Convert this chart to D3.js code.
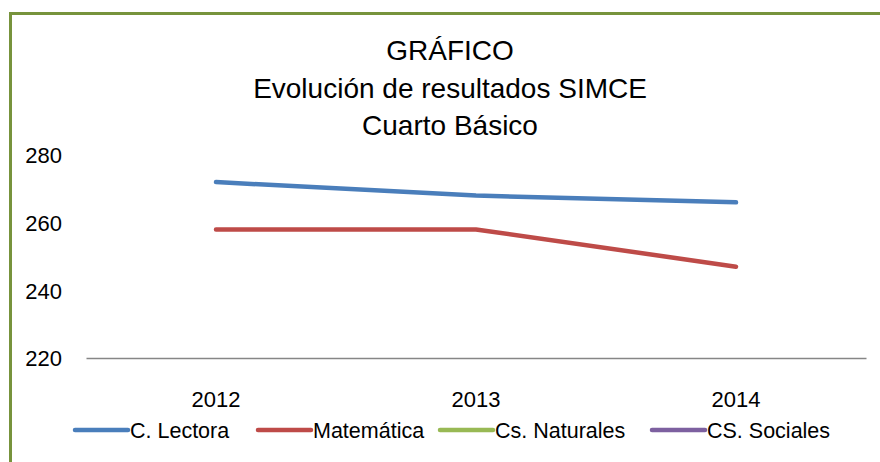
<!DOCTYPE html>
<html>
<head>
<meta charset="utf-8">
<script src="https://cdn.jsdelivr.net/npm/d3@7"></script>
<style>
  body { margin: 0; background: #fff; }
  svg text { font-family: "Liberation Sans", Arial, sans-serif; fill: #000; }
</style>
</head>
<body>
<div id="chart"></div>
<script>
// DATA
const years = ['2012', '2013', '2014'];
const lectora = [272, 268, 266];
const matematica = [258, 258, 247];
const seriesNames = ['C. Lectora', 'Matemática', 'Cs. Naturales', 'CS. Sociales'];
const seriesColors = ['#4A7EBB', '#BE4B48', '#98B954', '#7D60A0'];
const yTicks = [220, 240, 260, 280];
const titleLines = ['GRÁFICO', 'Evolución de resultados SIMCE', 'Cuarto Básico'];

const width = 880, height = 462;
const svg = d3.select('#chart').append('svg')
    .attr('width', width)
    .attr('height', height);

// FRAME
svg.append('rect')
    .attr('x', 10.5)
    .attr('y', 13.5)
    .attr('width', 900)
    .attr('height', 500)
    .attr('fill', 'none')
    .attr('stroke', '#77933C')
    .attr('stroke-width', 3);

// TITLE
svg.append('g').selectAll('text')
    .data(titleLines)
    .enter()
    .append('text')
    .attr('x', 450)
    .attr('y', (d, i) => 60 + i * 37.5)
    .attr('text-anchor', 'middle')
    .attr('font-size', 28)
    .text(d => d);

// SCALES
const xScale = d3.scaleBand()
    .domain(years)
    .range([86, 866]);

const yScale = d3.scaleLinear()
    .domain([220, 280])
    .range([358, 155]);

// Y AXIS
const yAxis = svg.append('g')
    .attr('transform', 'translate(62,0)')
    .call(d3.axisLeft(yScale).tickValues(yTicks).tickSize(0).tickPadding(0));
yAxis.select('.domain').remove();
yAxis.selectAll('text')
    .attr('font-size', 22)
    .attr('font-family', null)
    .attr('dy', '0.35em');

// X AXIS
const xAxis = svg.append('g')
    .attr('transform', 'translate(0,358)')
    .call(d3.axisBottom(xScale).tickSize(0).tickPadding(41).tickSizeOuter(0));
xAxis.select('.domain')
    .attr('stroke', '#868686')
    .attr('stroke-width', 1.5);
xAxis.selectAll('text')
    .attr('font-size', 22)
    .attr('font-family', null)
    .attr('dy', '0.35em');

// LINES
const line = d3.line()
    .x((d, i) => xScale(years[i]) + xScale.bandwidth() / 2)
    .y(d => yScale(d));

svg.append('g').selectAll('path')
    .data([lectora, matematica])
    .enter()
    .append('path')
    .attr('d', line)
    .attr('fill', 'none')
    .attr('stroke', (d, i) => seriesColors[i])
    .attr('stroke-width', 4.5)
    .attr('stroke-linecap', 'round')
    .attr('stroke-linejoin', 'round');

// LEGEND
const legendX = [75, 258, 440, 652];
const legend = svg.append('g').selectAll('g')
    .data(seriesNames)
    .enter()
    .append('g')
    .attr('transform', (d, i) => `translate(${legendX[i]},430)`);

legend.append('line')
    .attr('x1', 0)
    .attr('x2', 53)
    .attr('stroke', (d, i) => seriesColors[i])
    .attr('stroke-width', 4.5)
    .attr('stroke-linecap', 'round');

legend.append('text')
    .attr('x', 55)
    .attr('dy', '0.35em')
    .attr('font-size', 21.5)
    .text(d => d);
</script>
</body>
</html>
